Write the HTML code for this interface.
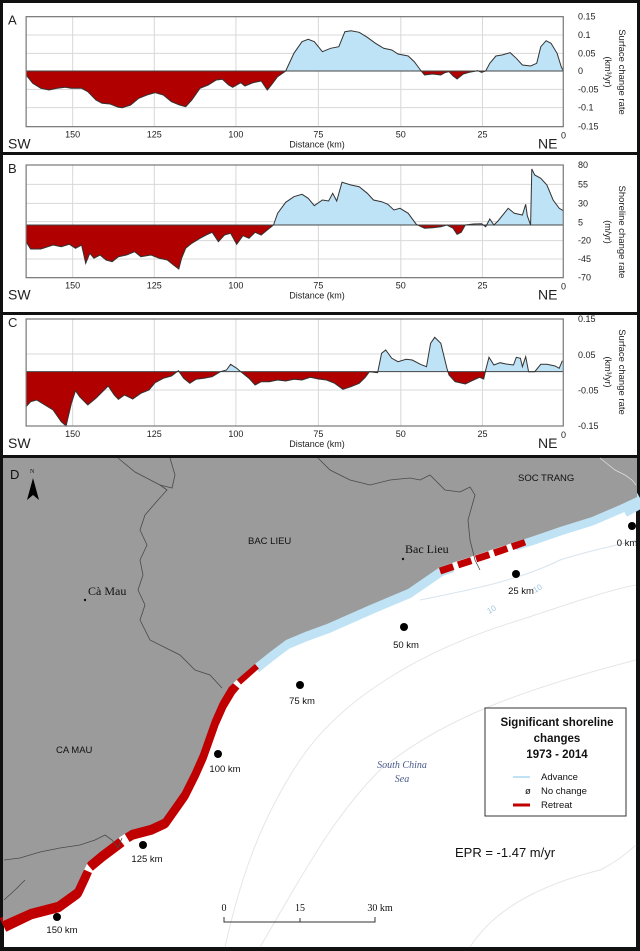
<!DOCTYPE html>
<html><head><meta charset="utf-8"><style>
html,body{margin:0;padding:0;background:#000;}
svg{display:block;font-family:"Liberation Sans",sans-serif;}
</style></head><body>
<svg id="s" width="640" height="951" viewBox="0 0 640 951" xmlns="http://www.w3.org/2000/svg">
<rect x="0" y="0" width="640" height="951" fill="#111"/>
<rect x="3" y="3" width="634" height="149" fill="#fff"/>
<rect x="3" y="155" width="634" height="157" fill="#fff"/>
<rect x="3" y="315" width="634" height="140" fill="#fff"/>
<g id="charts"></g>

<g>
<rect x="4" y="458" width="632" height="489" fill="#fff"/>
<g fill="none" stroke="#e6e6e6" stroke-width="1">
<path d="M225,947 C240,880 260,820 300,760 C340,700 420,650 520,620 C580,600 610,590 636,585"/>
<path d="M260,947 C300,880 330,820 380,770 C440,720 520,690 636,660"/>
<path d="M470,947 C500,900 560,880 600,870 C620,860 630,850 636,845"/>
<path d="M420,600 C470,590 520,580 560,560 C590,550 620,545 636,540" stroke="#d8e4ee"/>
</g>
<polyline fill="none" stroke="#bfe3f5" stroke-width="13" stroke-linejoin="round" points="255,667 270,655 286,643 305,635 327,627 370,608 408,592 440,570 452,566"/>
<polyline fill="none" stroke="#bfe3f5" stroke-width="11" stroke-linejoin="round" points="515,545 531,540 560,530 592,520 620,508 637,498"/>
<polyline fill="none" stroke="#bfe3f5" stroke-width="20" points="622,508 640,498"/>
<polyline fill="none" stroke="#c00000" stroke-width="15" stroke-linejoin="round" points="3,925 30,912 57,905 75,892 82,877 85,870"/>
<polyline fill="none" stroke="#c00000" stroke-width="15" stroke-linejoin="round" points="88,865 100,855 120,840"/>
<polyline fill="none" stroke="#c00000" stroke-width="14" stroke-linejoin="round" points="126,836 131,833 150,828 163,822 175,805 182,795 192,775 200,757 206,740 212,723 220,705 229,690 234,684"/>
<polyline fill="none" stroke="#c00000" stroke-width="12" points="237,680 255,664"/>
<polyline fill="none" stroke="#c00000" stroke-width="7" stroke-dasharray="14,5" points="440,571 470,561 500,551 525,542"/>
<polygon fill="#9b9b9b" points="3,458 637,458 637,497 620,505 592,517 560,527 531,537 500,547 470,557 440,567 408,589 370,605 327,624 305,632 286,640 270,652 255,664 240,677 229,687 220,702 212,720 206,737 200,754 192,772 182,792 175,802 163,819 150,825 131,830 120,837 100,852 88,862 82,874 75,889 57,902 30,909 3,921"/>
<g fill="none" stroke="#4a4a4a" stroke-width="0.8">
<polyline points="118,458 135,472 160,485 167,490 158,500 145,515 140,530 147,545 140,560 143,575 138,590 145,605 140,620 150,640 170,650 180,655 195,670 210,675 222,688"/>
<polyline points="160,485 172,488 175,475 170,458"/>
<polyline points="318,458 330,470 350,480 370,485 390,480 410,478 420,480 430,475 445,490 460,492 470,487 475,495 468,520 470,540 475,560 480,570"/>
<polyline points="4,860 20,858 40,852 60,848 80,845 95,840 105,835 112,840 118,848 122,838"/>
<polyline points="4,900 15,890 25,880"/>
<polyline points="600,458 615,470 625,475 632,480 636,485" stroke="#ddd"/>
</g>
<text x="10" y="479" font-size="13" fill="#111">D</text>
<text x="30" y="473" font-size="6" font-family="Liberation Serif,serif" fill="#111">N</text>
<polygon points="33,478 27,500 33,495 39,500" fill="#000"/>
<text x="518" y="481" font-size="9.5" fill="#111">SOC TRANG</text>
<text x="248" y="544" font-size="9.5" fill="#111">BAC LIEU</text>
<text x="405" y="553" font-size="12" font-family="Liberation Serif,serif" fill="#111">Bac Lieu</text>
<circle cx="403" cy="559" r="1.2" fill="#111"/>
<text x="88" y="595" font-size="12" font-family="Liberation Serif,serif" fill="#111">Cà Mau</text>
<circle cx="85" cy="600" r="1.2" fill="#111"/>
<text x="56" y="753" font-size="9.5" fill="#111">CA MAU</text>
<g fill="#000"><circle cx="632" cy="526" r="4"/><circle cx="516" cy="574" r="4"/><circle cx="404" cy="627" r="4"/><circle cx="300" cy="685" r="4"/><circle cx="218" cy="754" r="4"/><circle cx="143" cy="845" r="4"/><circle cx="57" cy="917" r="4"/></g>
<g font-size="9.5" fill="#111" text-anchor="middle">
<text x="627" y="546">0 km</text><text x="521" y="594">25 km</text><text x="406" y="648">50 km</text><text x="302" y="704">75 km</text><text x="225" y="772">100 km</text><text x="147" y="862">125 km</text><text x="62" y="933">150 km</text>
</g>
<text x="489" y="614" font-size="8" fill="#9cc4de" transform="rotate(-30 489 614)">10</text>
<text x="535" y="593" font-size="8" fill="#9cc4de" transform="rotate(-30 535 593)">10</text>
<g font-family="Liberation Serif,serif" font-style="italic" font-size="10" fill="#4a5a8a" text-anchor="middle"><text x="402" y="768">South China</text><text x="402" y="782">Sea</text></g>
<rect x="485" y="708" width="141" height="108" fill="#fff" stroke="#333" stroke-width="1"/>
<g font-weight="bold" font-size="11.5" fill="#111" text-anchor="middle"><text x="557" y="726">Significant shoreline</text><text x="557" y="742">changes</text><text x="557" y="758">1973 - 2014</text></g>
<line x1="513" y1="777" x2="530" y2="777" stroke="#bfe3f5" stroke-width="2"/>
<line x1="513" y1="805" x2="530" y2="805" stroke="#c00000" stroke-width="3"/>
<g font-size="9.5" fill="#111"><text x="541" y="780">Advance</text><text x="525" y="794">ø</text><text x="541" y="794">No change</text><text x="541" y="808">Retreat</text></g>
<text x="455" y="857" font-size="13" fill="#111">EPR = -1.47 m/yr</text>
<g font-family="Liberation Serif,serif" font-size="10" fill="#111" text-anchor="middle"><text x="224" y="911">0</text><text x="300" y="911">15</text><text x="380" y="911">30 km</text></g>
<polyline points="224,917 224,922 375,922 375,917" fill="none" stroke="#333" stroke-width="1"/>
<line x1="300" y1="918" x2="300" y2="922" stroke="#333"/>
</g>
</svg>
<script>
var NS="http://www.w3.org/2000/svg",root=document.getElementById('charts');
function el(t,a,p){var e=document.createElementNS(NS,t);for(var k in a)e.setAttribute(k,a[k]);(p||root).appendChild(e);return e;}
function txt(x,y,s,a,p){var e=el('text',Object.assign({x:x,y:y,'font-size':9,fill:'#222'},a||{}),p);e.textContent=s;return e;}
var sx=1/2.45,sy=1/3;
function panel(id,off,zero,top,bot,hgrid,labels,pts,title1,title2,letter,titleCY){
 var L=64*sx,R=1380*sx,T=top*sy+off,B=bot*sy+off,Z=zero*sy+off;
 [178,378,578,780,982,1182].forEach(function(g){el('line',{x1:g*sx,x2:g*sx,y1:T,y2:B,stroke:'#d8d8d8','stroke-width':1});});
 hgrid.forEach(function(g){var y=g*sy+off;el('line',{x1:L,x2:R,y1:y,y2:y,stroke:'#d8d8d8','stroke-width':1});});
 var P=pts.map(function(p){return (p[0]*sx).toFixed(1)+','+(p[1]*sy+off).toFixed(1);}).join(' ');
 var c1=el('clipPath',{id:id+'u'});el('rect',{x:0,y:0,width:640,height:Z},c1);
 var c2=el('clipPath',{id:id+'d'});el('rect',{x:0,y:Z,width:640,height:400},c2);
 el('polygon',{points:P,fill:'#bfe3f6','clip-path':'url(#'+id+'u)'});
 el('polygon',{points:P,fill:'#b00000','clip-path':'url(#'+id+'d)'});
 el('line',{x1:L,x2:R,y1:Z,y2:Z,stroke:'#444','stroke-width':1});
 el('polyline',{points:pts.slice(1,-1).map(function(p){return (p[0]*sx).toFixed(1)+','+(p[1]*sy+off).toFixed(1);}).join(' '),fill:'none',stroke:'#333','stroke-width':1});
 el('rect',{x:L,y:T,width:R-L,height:B-T,fill:'none',stroke:'#777','stroke-width':1.2});
 labels.forEach(function(l){txt(578,l[1]*sy+off+3,l[0],{'font-size':9});});
 var xl=[['150',178],['125',378],['100',578],['75',780],['50',982],['25',1182]];
 xl.forEach(function(l){txt(l[1]*sx,B+11,l[0],{'text-anchor':'middle','font-size':9});});
 txt(317,B+21,'Distance (km)',{'text-anchor':'middle','font-size':9});
 txt(8,B+22,'SW',{'font-size':14});
 txt(538,B+22,'NE',{'font-size':14});
 txt(561,B+12,'0',{'font-size':9});
 txt(8,T+8,letter,{'font-size':13});
 var g=el('g',{transform:'translate(619,'+titleCY+') rotate(90)'});
 txt(0,0,title1,{'text-anchor':'middle','font-size':9.5},g);
 txt(0,14,title2,{'text-anchor':'middle','font-size':9},g);
}
panel('a',0,213,50,380,[50,105,160,268,323,380],[['0.15',50],['0.1',105],['0.05',160],['0',213],['-0.05',268],['-0.1',323],['-0.15',380]],
[[64,213],[64,225],[80,250],[100,265],[120,270],[140,265],[160,262],[175,265],[200,265],[215,275],[235,300],[250,310],[270,312],[290,322],[300,323],[320,315],[340,295],[360,285],[380,278],[400,285],[420,305],[440,315],[455,320],[470,300],[490,265],[510,255],[530,240],[545,238],[560,255],[570,262],[590,248],[600,258],[620,248],[640,243],[655,270],[665,255],[680,230],[700,213],[720,160],[740,125],[755,118],[770,125],[790,155],[810,145],[830,140],[845,95],[860,92],[880,97],[900,112],[920,130],[940,145],[960,150],[975,162],[1000,168],[1015,185],[1030,210],[1040,225],[1060,222],[1080,225],[1090,218],[1100,215],[1110,228],[1120,237],[1135,222],[1150,217],[1170,212],[1180,217],[1190,213],[1200,190],[1215,168],[1230,165],[1250,158],[1265,175],[1280,195],[1300,198],[1315,190],[1325,140],[1338,122],[1350,130],[1365,160],[1375,200],[1380,213],[1380,213]],
'Surface change rate','(km³/yr)','A',72);
panel('b',145,240,60,398,[60,118,175,230,287,342,398],[['80',60],['55',118],['30',175],['5',232],['-20',287],['-45',342],['-70',398]],
[[64,240],[64,290],[75,312],[100,312],[130,300],[150,305],[170,298],[185,310],[200,300],[210,355],[220,325],[230,340],[245,330],[260,345],[275,350],[290,335],[310,330],[330,320],[345,335],[370,330],[390,340],[410,345],[425,360],[438,372],[445,340],[455,310],[470,295],[490,280],[505,270],[520,262],[535,290],[550,270],[565,265],[580,298],[595,272],[610,280],[625,262],[640,270],[655,255],[670,240],[680,205],[700,172],[720,155],[740,148],[755,160],[770,182],[790,165],[805,168],[815,145],[825,168],[838,112],[860,120],[880,125],[900,145],[915,165],[935,170],[950,178],[965,195],[980,190],[1000,205],[1020,238],[1040,250],[1060,248],[1080,245],[1095,240],[1110,250],[1120,268],[1130,262],[1140,240],[1160,237],[1180,236],[1190,245],[1200,222],[1210,240],[1220,228],[1245,190],[1260,205],[1280,210],[1288,178],[1292,212],[1300,240],[1303,72],[1310,90],[1325,100],[1340,120],[1355,165],[1370,190],[1380,197],[1380,240]],
'Shoreline change rate','(m/yr)','B',232);
panel('c',300,215,57,378,[57,162,270,378],[['0.15',57],['0.05',165],['-0.05',272],['-0.15',378]],
[[64,215],[64,320],[75,305],[90,300],[110,315],[130,330],[150,365],[162,378],[175,310],[185,272],[195,290],[215,315],[235,295],[265,258],[280,285],[290,298],[305,285],[325,297],[345,280],[365,270],[380,248],[400,235],[420,228],[437,212],[450,235],[465,250],[480,238],[500,235],[520,230],[540,215],[555,210],[565,193],[580,205],[590,215],[610,235],[625,255],[640,245],[660,245],[680,240],[700,243],[720,238],[740,240],[760,232],[780,237],[800,240],[820,250],[840,268],[860,260],[880,250],[895,232],[905,215],[925,218],[935,160],[945,150],[960,175],[975,185],[995,178],[1010,180],[1030,193],[1045,200],[1055,130],[1065,112],[1080,130],[1095,205],[1100,225],[1115,245],[1140,252],[1160,240],[1175,232],[1185,237],[1190,210],[1198,172],[1210,195],[1225,188],[1240,192],[1258,195],[1265,172],[1275,175],[1280,200],[1288,170],[1295,215],[1310,215],[1325,193],[1340,193],[1360,198],[1370,205],[1378,182],[1380,215]],
'Surface change rate','(km³/yr)','C',372);
</script>
</body></html>
